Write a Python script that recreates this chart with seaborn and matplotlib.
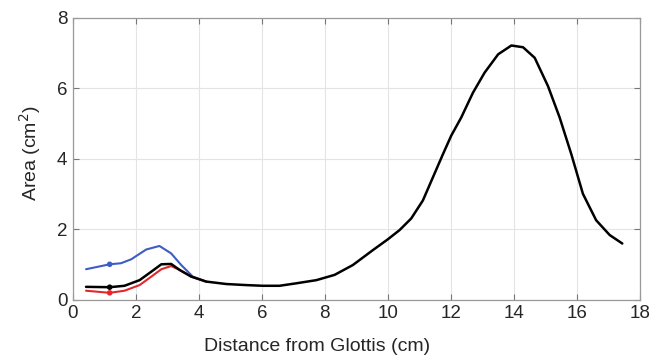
import matplotlib
matplotlib.use("Agg")
import matplotlib.pyplot as plt
import seaborn as sns
import pandas as pd

# Data
black_x = [0.42, 1.17, 1.64, 2.12, 2.49, 2.81, 3.12, 3.39, 3.76, 4.23, 4.87, 5.5, 6.03, 6.56,
           7.09, 7.73, 8.31, 8.89, 9.52, 10.0, 10.37, 10.74, 11.11, 11.43, 11.75, 12.01, 12.33,
           12.7, 13.07, 13.5, 13.92, 14.29, 14.66, 15.08, 15.45, 15.82, 16.19, 16.61, 17.04, 17.44]
black_y = [0.37, 0.36, 0.40, 0.56, 0.80, 1.01, 1.02, 0.85, 0.66, 0.52, 0.45, 0.42, 0.40, 0.40,
           0.47, 0.56, 0.71, 0.99, 1.41, 1.72, 1.98, 2.31, 2.82, 3.48, 4.14, 4.66, 5.18,
           5.88, 6.45, 6.97, 7.22, 7.17, 6.87, 6.07, 5.18, 4.14, 3.01, 2.26, 1.84, 1.60]
blue_x = [0.42, 1.17, 1.53, 1.85, 2.33, 2.75, 3.12, 3.44, 3.81, 4.23]
blue_y = [0.87, 1.01, 1.04, 1.15, 1.43, 1.53, 1.32, 0.99, 0.66, 0.52]
red_x = [0.42, 1.17, 1.64, 2.12, 2.49, 2.81, 3.12, 3.39, 3.76, 4.23]
red_y = [0.26, 0.20, 0.26, 0.42, 0.66, 0.87, 0.96, 0.85, 0.66, 0.52]
marker_x = [1.17, 1.17, 1.17]
marker_y = [1.01, 0.36, 0.20]
marker_series = ["blue", "black", "red"]

x_ticks = [0, 2, 4, 6, 8, 10, 12, 14, 16, 18]
y_ticks = [0, 2, 4, 6, 8]

sns.set_style("whitegrid")
plt.rcParams['font.family'] = ['Liberation Sans', 'DejaVu Sans']

fig = plt.figure(figsize=(6.68, 3.6), dpi=100)
ax = fig.add_axes([0.109, 0.167, 0.849, 0.783])

colors = {"blue": "#3d5cc4", "red": "#e5262a", "black": "#000000"}

df_blue = pd.DataFrame({"x": blue_x, "y": blue_y})
df_red = pd.DataFrame({"x": red_x, "y": red_y})
df_black = pd.DataFrame({"x": black_x, "y": black_y})
df_mark = pd.DataFrame({"x": marker_x, "y": marker_y, "s": marker_series})

sns.lineplot(data=df_blue, x="x", y="y", ax=ax, color=colors["blue"], lw=1.5, sort=False)
sns.lineplot(data=df_red, x="x", y="y", ax=ax, color=colors["red"], lw=1.5, sort=False)
sns.lineplot(data=df_black, x="x", y="y", ax=ax, color=colors["black"], lw=1.8, sort=False)
sns.scatterplot(data=df_mark, x="x", y="y", hue="s", palette=colors, ax=ax, s=16,
                edgecolor="none", legend=False, zorder=5)

ax.set_xlim(0, 18)
ax.set_ylim(0, 8)
ax.set_xticks(x_ticks)
ax.set_yticks(y_ticks)
ax.grid(True, color="#e4e4e4", lw=0.8)
for sp in ax.spines.values():
    sp.set_color("#9a9a9a")
    sp.set_linewidth(0.9)
ax.tick_params(direction="in", length=4, color="#777777", labelsize=13.5,
               top=True, right=True, bottom=True, left=True)
ax.tick_params(axis="x", pad=4)
ax.tick_params(axis="y", pad=4)
ax.set_xlabel("Distance from Glottis (cm)", fontsize=14)
ax.set_ylabel("Area (cm$^2$)", fontsize=14)
ax.xaxis.set_label_coords(0.43, -0.135)
ax.yaxis.set_label_coords(-0.052, 0.52)

fig.savefig("out.png", dpi=100)
